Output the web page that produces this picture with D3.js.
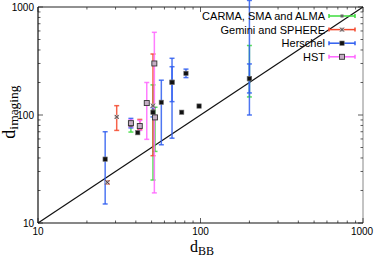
<!DOCTYPE html>
<html>
<head>
<meta charset="utf-8">
<script src="https://cdn.jsdelivr.net/npm/d3@7"></script>
<style>
	body { margin: 0; background: #fff; }
	text { font-family: "Liberation Sans", Arial, sans-serif; }
</style>
</head>
<body>
<div id="chart"></div>
<script>

// series (x = d_BB, y = d_imaging, lo/hi = error bar ends)
var seriesNames = ["CARMA, SMA and ALMA", "Gemini and SPHERE", "Herschel", "HST"];

var carmaX  = [37.3, 51, 52.5, 200];
var carmaY  = [80, 110, 95, 217];
var carmaLo = [69.5, 25, 46, 147];
var carmaHi = [88, 190, 118, 440];

var geminiX  = [26.7, 30.5, 42.3, 51];
var geminiY  = [23.8, 96, 80, 122];
var geminiLo = [23, 72, 73, 42];
var geminiHi = [24.6, 122, 91, 367];

var herschelX  = [25.9, 37.3, 41.1, 51, 57.4, 66.8, 66.8, 76.6, 81.4, 98, 200, 200];
var herschelY  = [39, 82.6, 68.6, 106, 131, 201, 201, 106, 243, 121, 217, 217];
var herschelLo = [15, 76, 68.6, 96, 53, 61, 133, 106, 222, 121, 100, 160];
var herschelHi = [70, 93, 68.6, 117, 210, 335, 280, 106, 266, 121, 1150, 297];

var hstX  = [37.3, 42.3, 46.7, 52, 52.5];
var hstY  = [84, 79, 129, 300, 95];
var hstLo = [78, 72, 59.5, 19, 91];
var hstHi = [90, 89, 200, 583, 99];

var majorTicks = [10, 100, 1000];
var tickLabels = ["10", "100", "1000"];

var config = {
	width : 374,
	height : 263,
	left : 38,
	right : 363,
	top : 7,
	bottom : 223,
	colors : ["#3ddc3d", "#f4482c", "#2f5ef0", "#ff66ff"],
	capW : 2.5
};

function zip(xs, ys, lo, hi) {
	return xs.map(function(x, i){ return {x: x, y: ys[i], lo: lo[i], hi: hi[i]}; });
}

var series = [
	zip(carmaX, carmaY, carmaLo, carmaHi),
	zip(geminiX, geminiY, geminiLo, geminiHi),
	zip(herschelX, herschelY, herschelLo, herschelHi),
	zip(hstX, hstY, hstLo, hstHi)
];

var svg = d3.select("#chart").append("svg")
	.attr("width", config.width)
	.attr("height", config.height);

var x = d3.scaleLog().domain([10, 1000]).range([config.left, config.right]);
var y = d3.scaleLog().domain([10, 1000]).range([config.bottom, config.top]);

// minor ticks 2..9 for each decade
var minorTicks = [];
[10, 100].forEach(function(d){
	for (var k = 2; k <= 9; k++) minorTicks.push(d * k);
});

// frame
svg.append("line").attr("x1", config.left).attr("x2", config.right).attr("y1", config.top).attr("y2", config.top).attr("stroke", "#222");
svg.append("line").attr("x1", config.right).attr("x2", config.right).attr("y1", config.top).attr("y2", config.bottom).attr("stroke", "#888");

var ticks = svg.append("g").attr("stroke", "#333").attr("stroke-width", 0.8);

function drawTicks(vals, len) {
	vals.forEach(function(v){
		// bottom + top
		ticks.append("line").attr("x1", x(v)).attr("x2", x(v)).attr("y1", config.bottom).attr("y2", config.bottom - len);
		ticks.append("line").attr("x1", x(v)).attr("x2", x(v)).attr("y1", config.top).attr("y2", config.top + len);
		// left + right
		ticks.append("line").attr("y1", y(v)).attr("y2", y(v)).attr("x1", config.left).attr("x2", config.left + len);
		ticks.append("line").attr("y1", y(v)).attr("y2", y(v)).attr("x1", config.right).attr("x2", config.right - len);
	});
}
drawTicks(majorTicks, 5);
drawTicks(minorTicks, 2.5);

svg.append("line").attr("x1", config.left).attr("x2", config.left).attr("y1", config.top).attr("y2", config.bottom).attr("stroke", "#111").attr("stroke-width", 1.2);
svg.append("line").attr("x1", config.left).attr("x2", config.right).attr("y1", config.bottom).attr("y2", config.bottom).attr("stroke", "#111").attr("stroke-width", 1.2);

// tick labels
svg.selectAll("text.ylab").data(majorTicks).enter().append("text")
	.attr("x", 34).attr("y", function(d){ return y(d) + 3.5; })
	.attr("text-anchor", "end").attr("font-size", "10px")
	.text(function(d, i){ return tickLabels[i]; });

svg.selectAll("text.xlab").data(majorTicks).enter().append("text")
	.attr("x", function(d, i){ return x(d) - (i == 2 ? 1 : 0); }).attr("y", 235)
	.attr("text-anchor", "middle").attr("font-size", "10px")
	.text(function(d, i){ return tickLabels[i]; });

// axis titles
var xt = svg.append("text").attr("x", 202).attr("y", 252)
	.attr("text-anchor", "middle")
	.style("font-family", "'Liberation Serif', 'DejaVu Serif', serif")
	.attr("font-size", "16px");
xt.append("tspan").text("d");
xt.append("tspan").attr("dy", 3).attr("font-size", "12px").text("BB");

var yt = svg.append("text").attr("transform", "translate(15,112) rotate(-90)")
	.attr("text-anchor", "middle")
	.style("font-family", "'Liberation Serif', 'DejaVu Serif', serif")
	.attr("font-size", "18px");
yt.append("tspan").text("d");
yt.append("tspan").attr("dy", 3).attr("font-size", "13.5px").text("imaging");

// y = x line
svg.append("line")
	.attr("x1", x(10)).attr("y1", y(10))
	.attr("x2", x(1000)).attr("y2", y(1000))
	.attr("stroke", "#111").attr("stroke-width", 1.2);

// error bars
series.forEach(function(data, s){
	var g = svg.append("g")
		.attr("stroke", config.colors[s])
		.attr("stroke-width", 1.5)
		.attr("stroke-opacity", 0.85);
	data.forEach(function(d){
		if (d.lo === d.hi) return;
		g.append("line").attr("x1", x(d.x)).attr("x2", x(d.x)).attr("y1", y(d.lo)).attr("y2", y(d.hi));
		[d.lo, d.hi].forEach(function(v){
			g.append("line").attr("x1", x(d.x) - config.capW).attr("x2", x(d.x) + config.capW)
				.attr("y1", y(v)).attr("y2", y(v));
		});
	});
});

// markers, one style per series
function marker(g, s, cx, cy) {
	if (s === 0) {
		g.append("rect").attr("x", cx - 1.5).attr("y", cy - 1.5).attr("width", 3).attr("height", 3)
			.attr("fill", "#666");
	} else if (s === 1) {
		g.append("rect").attr("x", cx - 2).attr("y", cy - 2).attr("width", 4).attr("height", 4)
			.attr("fill", "#bbb");
		g.append("path").attr("d", "M" + (cx - 2) + "," + (cy - 2) + "L" + (cx + 2) + "," + (cy + 2) +
				"M" + (cx + 2) + "," + (cy - 2) + "L" + (cx - 2) + "," + (cy + 2))
			.attr("stroke", "#533").attr("stroke-width", 0.9);
	} else if (s === 2) {
		g.append("rect").attr("x", cx - 2.2).attr("y", cy - 2.2).attr("width", 4.4).attr("height", 4.4)
			.attr("fill", "#111").attr("stroke", "#777").attr("stroke-width", 0.6);
	} else {
		g.append("rect").attr("x", cx - 2.5).attr("y", cy - 2.5).attr("width", 5).attr("height", 5)
			.attr("fill", "#c4aec4").attr("stroke", "#333").attr("stroke-width", 0.9);
	}
}

series.forEach(function(data, s){
	var g = svg.append("g");
	data.forEach(function(d){ marker(g, s, x(d.x), y(d.y)); });
});

// legend
var legend = svg.append("g");
seriesNames.forEach(function(name, i){
	var ly = 16 + i * 13.6;
	legend.append("text").attr("x", 325).attr("y", ly + 4)
		.attr("text-anchor", "end").attr("font-size", "11px").text(name);
	var lg = legend.append("g").attr("stroke", config.colors[i]).attr("stroke-width", 1.5);
	lg.append("line").attr("x1", 329).attr("x2", 355).attr("y1", ly).attr("y2", ly);
	lg.append("line").attr("x1", 329).attr("x2", 329).attr("y1", ly - 2).attr("y2", ly + 2);
	lg.append("line").attr("x1", 355).attr("x2", 355).attr("y1", ly - 2).attr("y2", ly + 2);
	marker(legend, i, 342, ly);
});

</script>
</body>
</html>
